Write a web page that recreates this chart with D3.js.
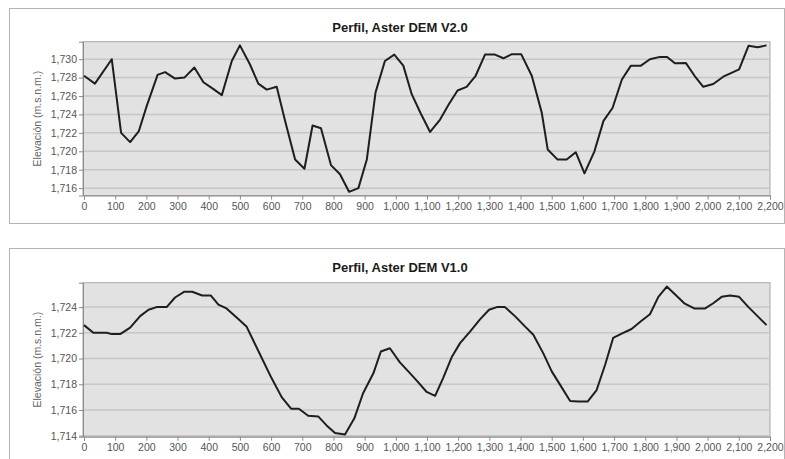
<!DOCTYPE html>
<html><head><meta charset="utf-8">
<script src="https://cdn.jsdelivr.net/npm/d3@7"></script>
<style>body{margin:0;background:#fff}svg{display:block}</style>
</head><body><svg id="c" width="785" height="459"></svg>
<script>
// Distances (m) and elevations
const distV2 = [0,35,89,119,148,176,201,236,260,292,322,354,383,413,442,474,500,532,559,586,618,645,677,707,733,760,792,821,850,880,907,935,965,995,1024,1051,1080,1110,1142,1170,1198,1227,1256,1286,1318,1345,1372,1402,1436,1468,1487,1519,1548,1577,1605,1637,1666,1695,1725,1754,1786,1815,1847,1870,1895,1930,1958,1986,2018,2050,2101,2131,2160,2189];
const elevV2 = [1728.2,1727.35,1730.0,1722.0,1721.0,1722.2,1724.9,1728.3,1728.6,1727.9,1728.0,1729.1,1727.5,1726.8,1726.1,1729.8,1731.5,1729.45,1727.35,1726.7,1727.0,1723.3,1719.1,1718.1,1722.8,1722.5,1718.5,1717.5,1715.6,1716.0,1719.1,1726.4,1729.8,1730.5,1729.3,1726.2,1724.1,1722.1,1723.45,1725.1,1726.6,1727.0,1728.2,1730.5,1730.5,1730.1,1730.55,1730.55,1728.2,1724.2,1720.2,1719.1,1719.1,1719.9,1717.6,1720.0,1723.3,1724.7,1727.8,1729.3,1729.3,1730.0,1730.25,1730.25,1729.55,1729.6,1728.2,1727.0,1727.3,1728.1,1728.9,1731.45,1731.3,1731.5];
const distV1 = [0,30,73,89,116,148,180,207,233,265,292,322,347,379,407,431,457,494,521,553,601,634,664,689,719,751,778,805,837,867,895,928,952,981,1013,1040,1070,1099,1126,1152,1179,1206,1238,1270,1299,1324,1350,1382,1414,1441,1473,1500,1527,1559,1585,1615,1644,1671,1697,1726,1756,1786,1815,1842,1869,1895,1925,1957,1992,2018,2045,2072,2101,2131,2160,2189];
const elevV1 = [1722.6,1722.0,1722.0,1721.9,1721.9,1722.4,1723.3,1723.8,1724.0,1724.0,1724.75,1725.2,1725.2,1724.9,1724.9,1724.2,1723.9,1723.1,1722.5,1720.9,1718.5,1717.0,1716.1,1716.1,1715.55,1715.5,1714.8,1714.2,1714.1,1715.35,1717.3,1718.85,1720.55,1720.8,1719.7,1719.0,1718.2,1717.4,1717.1,1718.5,1720.1,1721.2,1722.1,1723.05,1723.8,1724.0,1724.0,1723.3,1722.5,1721.85,1720.4,1719.0,1717.95,1716.7,1716.65,1716.65,1717.55,1719.5,1721.6,1721.95,1722.3,1722.9,1723.45,1724.8,1725.6,1725.0,1724.3,1723.9,1723.9,1724.3,1724.8,1724.9,1724.8,1724.0,1723.3,1722.6];
const xTicks = [0,100,200,300,400,500,600,700,800,900,1000,1100,1200,1300,1400,1500,1600,1700,1800,1900,2000,2100,2200];
const yTicksV2 = [1716,1718,1720,1722,1724,1726,1728,1730];
const yTicksV1 = [1714,1716,1718,1720,1722,1724];
const titles = ["Perfil, Aster DEM V2.0","Perfil, Aster DEM V1.0"];
const yTitle = "Elevación (m.s.n.m.)";

const svg = d3.select("#c");
const fmt = d3.format(",");

function panel(cfg){
  const g = svg.append("g");
  g.append("rect").attr("x",9.5).attr("y",cfg.frameTop+0.5).attr("width",775).attr("height",cfg.frameH)
    .attr("fill","#fff").attr("stroke","#b4b4b4");
  g.append("text").attr("x",400).attr("y",cfg.frameTop+24).attr("text-anchor","middle")
    .attr("font-family","Liberation Sans, Arial, sans-serif").attr("font-weight","bold")
    .attr("font-size",13).attr("fill","#1a1a1a").text(cfg.title);
  const x = d3.scaleLinear().domain([0,2200]).range([84,770]);
  const y = d3.scaleLinear().domain(cfg.yDomain).range([cfg.bottom,cfg.top]);
  g.append("rect").attr("x",83).attr("y",cfg.top).attr("width",687).attr("height",cfg.bottom-cfg.top)
    .attr("fill","#e2e2e2").attr("stroke","#a8a8a8");
  g.selectAll(".grid").data(cfg.yTicks).join("line")
    .attr("x1",83).attr("x2",770).attr("y1",d=>y(d)).attr("y2",d=>y(d))
    .attr("stroke","#c6c6c6").attr("stroke-width",1.5);
  const xa = g.append("g").attr("transform",`translate(0,${cfg.bottom})`)
    .call(d3.axisBottom(x).tickValues(xTicks).tickFormat(fmt).tickSize(4).tickPadding(3));
  const ya = g.append("g").attr("transform","translate(83,0)")
    .call(d3.axisLeft(y).tickValues(cfg.yTicks).tickFormat(fmt).tickSize(4).tickPadding(2));
  [xa,ya].forEach(a=>{
    a.select(".domain").attr("stroke","#8a8a8a");
    a.selectAll(".tick line").attr("stroke","#8a8a8a");
    a.selectAll("text").attr("font-family","Liberation Sans, Arial, sans-serif").attr("font-size",10.5).attr("fill","#555");
  });
  g.append("text").attr("transform",`translate(41,${(cfg.top+cfg.bottom)/2}) rotate(-90)`)
    .attr("text-anchor","middle").attr("font-family","Liberation Sans, Arial, sans-serif")
    .attr("font-size",10.5).attr("fill","#666").text(yTitle);
  const line = d3.line().x(d=>x(d[0])).y(d=>y(d[1]));
  g.append("path").datum(d3.zip(cfg.dist,cfg.elev)).attr("d",line)
    .attr("fill","none").attr("stroke","#1e1e1e").attr("stroke-width",2).attr("stroke-linejoin","round");
}

panel({frameTop:8, frameH:215, title:titles[0], top:41.7, bottom:195.5, yDomain:[1715.2,1731.9], yTicks:yTicksV2, dist:distV2, elev:elevV2});
panel({frameTop:248, frameH:230, title:titles[1], top:282.7, bottom:436.7, yDomain:[1713.92,1725.9], yTicks:yTicksV1, dist:distV1, elev:elevV1});
</script></body></html>
